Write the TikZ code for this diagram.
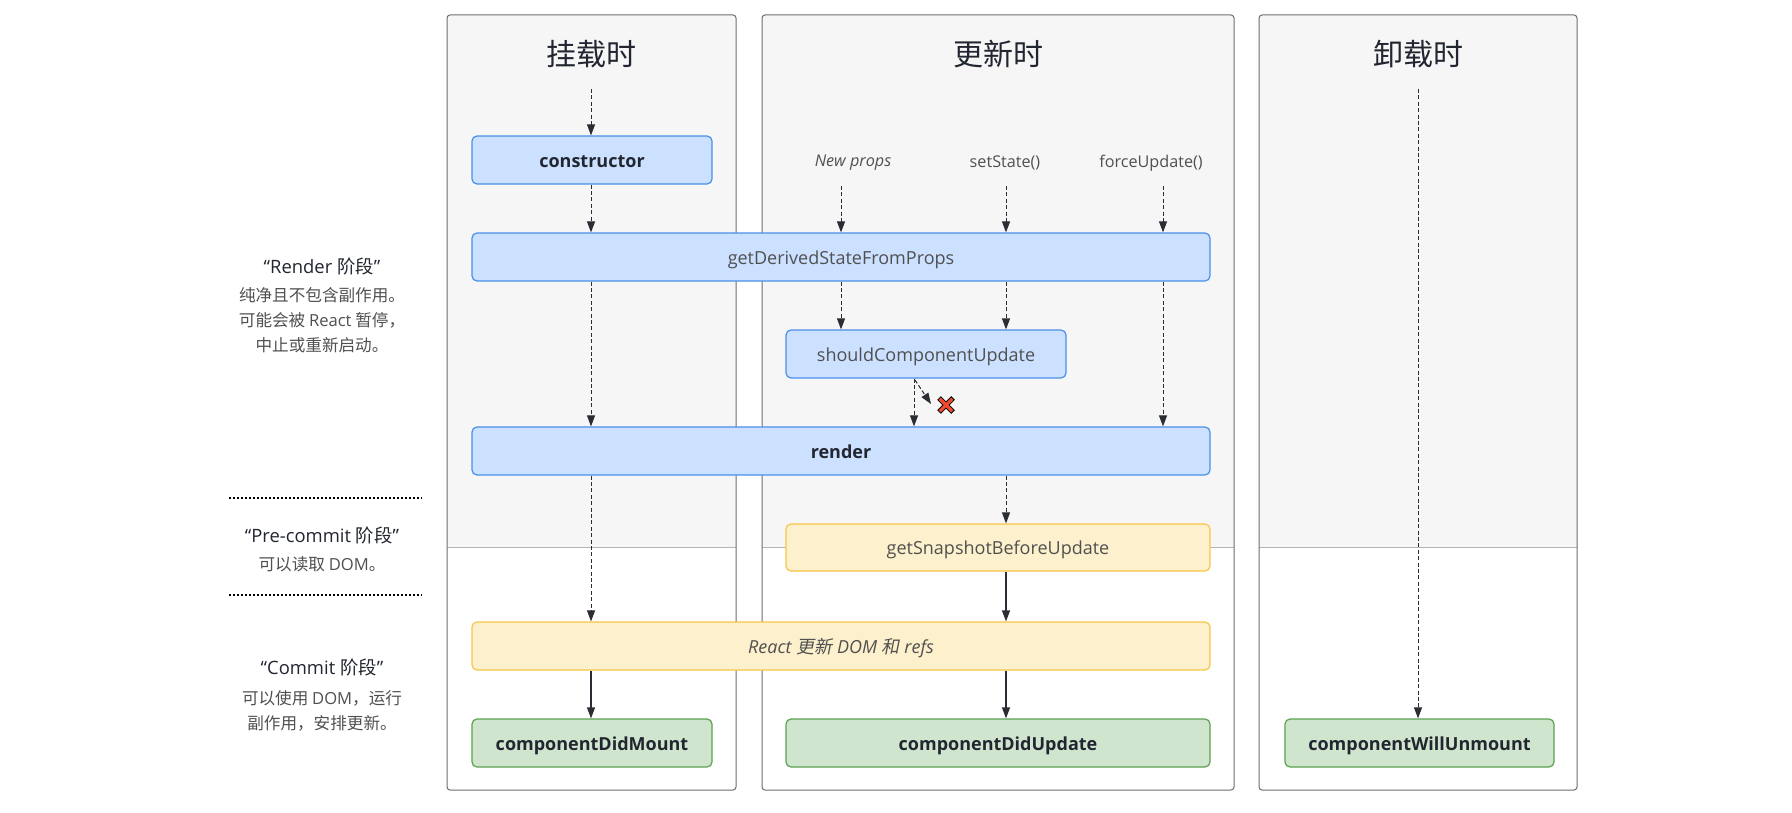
\documentclass[tikz,border=0pt]{standalone}
\usepackage{fontspec}
\setmainfont{Open Sans}
\newfontfamily\cjk{Noto Sans CJK SC}
\newfontfamily\cjkit{Noto Sans CJK SC}[FakeSlant=0.2]
\usetikzlibrary{arrows.meta}
\definecolor{panelbg}{HTML}{F6F6F6}
\definecolor{panelline}{HTML}{6E6E6E}
\definecolor{divline}{HTML}{B4B4B4}
\definecolor{bluefill}{HTML}{CCE0FF}
\definecolor{blueline}{HTML}{4A90E8}
\definecolor{yelfill}{HTML}{FDF0CC}
\definecolor{yelline}{HTML}{F6C644}
\definecolor{grnfill}{HTML}{D0E5CE}
\definecolor{grnline}{HTML}{5DA052}
\definecolor{txtdark}{HTML}{222630}
\definecolor{txtgray}{HTML}{505050}
\definecolor{arrowc}{HTML}{2A2D34}
\definecolor{xred}{HTML}{F04A2A}
\tikzset{
  panel/.style={draw=panelline, line width=0.5pt, rounded corners=1.5pt},
  lbox/.style={rounded corners=2.5pt, line width=0.6pt, minimum height=24pt, inner sep=0pt,
    text height=7.2pt, text depth=0pt, font=\fontsize{9}{10}\selectfont},
  bluebox/.style={lbox, draw=blueline, fill=bluefill},
  yelbox/.style={lbox, draw=yelline, fill=yelfill},
  grnbox/.style={lbox, draw=grnline, fill=grnfill},
  title/.style={font=\fontsize{15}{18}\selectfont\cjk, text=txtdark},
  trig/.style={font=\fontsize{8.1}{9}\selectfont, text=txtgray},
  dasharr/.style={draw=arrowc, line width=0.5pt, dash pattern=on 2pt off 1.2pt, -{Triangle[width=4pt,length=5.5pt]}},
  solidarr/.style={draw=arrowc, line width=0.6pt, -{Triangle[width=4pt,length=5.5pt]}},
  sidehead/.style={font=\fontsize{9.2}{11}\selectfont, text=txtdark},
  sidetxt/.style={font=\fontsize{8.3}{9}\selectfont\cjk, text=txtgray},
  sep/.style={draw=black, line width=1pt, dash pattern=on 1pt off 1pt}
}
\begin{document}
\begin{tikzpicture}[x=0.5pt,y=-0.5pt]
\useasboundingbox (0,0) rectangle (1792,813);
\fill[white] (0,0) rectangle (1792,813);
% panels
\foreach \l/\r in {447/736, 762/1234, 1259/1577}{
  \begin{scope}
    \clip[rounded corners=1.5pt] (\l,15) rectangle (\r,790);
    \fill[panelbg] (\l,15) rectangle (\r,547);
    \draw[divline, line width=0.5pt] (\l,547) -- (\r,547);
  \end{scope}
  \draw[panel] (\l,15) rectangle (\r,790);
}
% titles
\node[title] (tmount) at (591,54) {挂载时};
\node[title] (tupdate) at (998,54) {更新时};
\node[title] (tunmount) at (1418,54) {卸载时};
\coordinate (smount) at (591,89);
\coordinate (sunmount) at (1418,89);

% triggers
\node[trig, font=\fontsize{8.1}{9}\selectfont\itshape] (np) at (853,163) {New props};
\node[trig] (ss) at (1005,163) {setState()};
\node[trig] (fu) at (1151,163) {forceUpdate()};
\coordinate (npx) at (841,186);
\coordinate (ssx) at (1006,186);
\coordinate (fux) at (1163,186);

% boxes
\node[bluebox, minimum width=120pt] (ctor) at (592,160) {\textcolor{txtdark}{\bfseries constructor}};
\node[bluebox, minimum width=369pt] (gdsfp) at (841,257) {\textcolor{txtgray}{getDerivedStateFromProps}};
\node[bluebox, minimum width=140pt] (scu) at (926,354) {\textcolor{txtgray}{shouldComponentUpdate}};
\node[bluebox, minimum width=369pt] (render) at (841,451) {\textcolor{txtdark}{\bfseries render}};
\node[yelbox, minimum width=212pt, minimum height=23.5pt] (snap) at (998,547.5) {\textcolor{txtgray}{getSnapshotBeforeUpdate}};
\node[yelbox, minimum width=369pt] (rdom) at (841,646) {\textcolor{txtgray}{\itshape React {\cjkit 更新} DOM {\cjkit 和} refs}};
\node[grnbox, minimum width=120pt] (cdm) at (592,743) {\textcolor{txtdark}{\bfseries componentDidMount}};
\node[grnbox, minimum width=212pt] (cdu) at (998,743) {\textcolor{txtdark}{\bfseries componentDidUpdate}};
\node[grnbox, minimum width=134.5pt] (cwu) at (1419.5,743) {\textcolor{txtdark}{\bfseries componentWillUnmount}};

% mount arrows
\draw[dasharr] (smount) -- (ctor.north -| smount);
\draw[dasharr] (ctor.south -| smount) -- (gdsfp.north -| smount);
\draw[dasharr] (gdsfp.south -| smount) -- (render.north -| smount);
\draw[dasharr] (render.south -| smount) -- (rdom.north -| smount);
\draw[solidarr] (rdom.south -| smount) -- (cdm.north -| smount);

% update arrows
\draw[dasharr] (npx) -- (gdsfp.north -| npx);
\draw[dasharr] (ssx) -- (gdsfp.north -| ssx);
\draw[dasharr] (fux) -- (gdsfp.north -| fux);
\draw[dasharr] (gdsfp.south -| npx) -- (scu.north -| npx);
\draw[dasharr] (gdsfp.south -| ssx) -- (scu.north -| ssx);
\draw[dasharr] (gdsfp.south -| fux) -- (render.north -| fux);
\coordinate (scux) at (914,380);
\draw[dasharr] (scu.south -| scux) -- (render.north -| scux);
\node[inner sep=0pt, minimum size=8.5pt] (xmark) at (946,405) {};
\coordinate (scud) at (915,380);
\coordinate (xend) at (931,404);
\draw[dasharr] (scud) -- (xend);
\draw[black, line width=2.6pt] ([shift={(-7,-7)}]xmark.center) -- ([shift={(7,7)}]xmark.center)
  ([shift={(-7,7)}]xmark.center) -- ([shift={(7,-7)}]xmark.center);
\draw[xred, line width=1.6pt] ([shift={(-6.3,-6.3)}]xmark.center) -- ([shift={(6.3,6.3)}]xmark.center)
  ([shift={(-6.3,6.3)}]xmark.center) -- ([shift={(6.3,-6.3)}]xmark.center);
\draw[dasharr] (render.south -| ssx) -- (snap.north -| ssx);
\draw[solidarr] (snap.south -| ssx) -- (rdom.north -| ssx);
\draw[solidarr] (rdom.south -| ssx) -- (cdu.north -| ssx);

% unmount arrow
\draw[dasharr] (sunmount) -- (cwu.north -| sunmount);

% side labels
\node[sidehead] (rh) at (322,266) {“Render {\cjk 阶段}”};
\node[sidetxt] (r1) at (322,295) {纯净且不包含副作用。};
\node[sidetxt] (r2) at (322,320) {可能会被 {\fontspec{Open Sans}React} 暂停，};
\node[sidetxt] (r3) at (322,345) {中止或重新启动。};
\coordinate (s1a) at (229,498); \coordinate (s1b) at (422,498);
\draw[sep] (s1a) -- (s1b);
\node[sidehead] (ph) at (322,535) {“Pre-commit {\cjk 阶段}”};
\node[sidetxt] (p1) at (322,564) {可以读取 {\fontspec{Open Sans}DOM}。};
\coordinate (s2a) at (229,595); \coordinate (s2b) at (422,595);
\draw[sep] (s2a) -- (s2b);
\node[sidehead] (ch) at (322,667) {“Commit {\cjk 阶段}”};
\node[sidetxt] (c1) at (322,698) {可以使用 {\fontspec{Open Sans}DOM}，运行};
\node[sidetxt] (c2) at (322,723) {副作用，安排更新。};
\end{tikzpicture}
\end{document}
